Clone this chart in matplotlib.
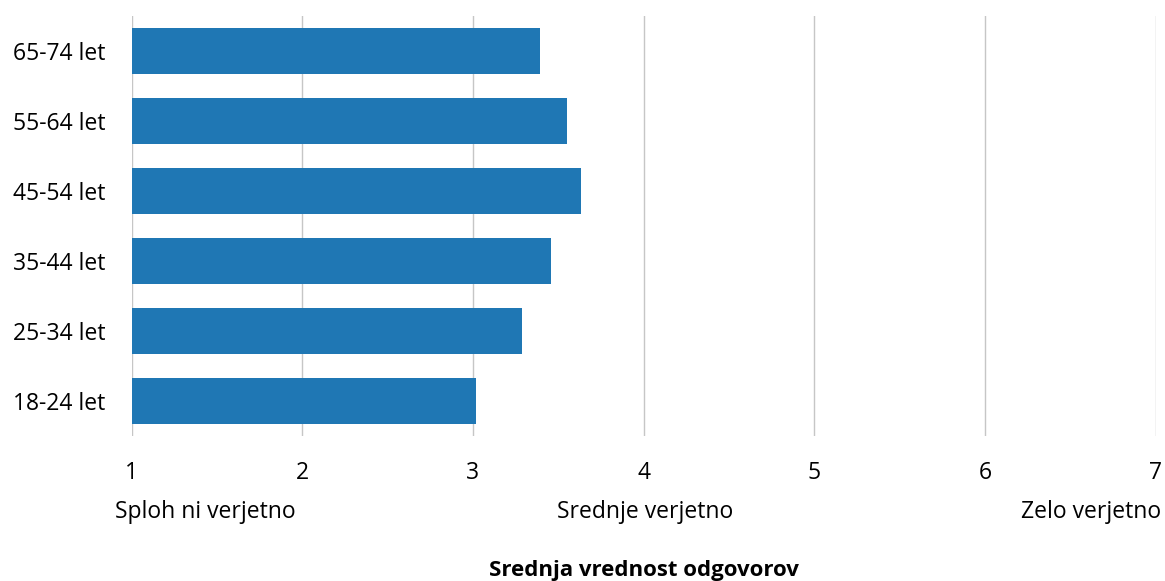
import matplotlib.pyplot as plt
import matplotlib.transforms as mtransforms

# mean answer per age group (scale 1-7)
groups = ["18-24 let", "25-34 let", "35-44 let", "45-54 let", "55-64 let", "65-74 let"]
means = [3.02, 3.29, 3.46, 3.63, 3.55, 3.39]
ticks = [1, 2, 3, 4, 5, 6, 7]
scale_labels = ["Sploh ni verjetno", "Srednje verjetno", "Zelo verjetno"]
scale_pos = [1.43, 4.01, 6.62]

plt.rcParams['font.family'] = ['Open Sans', 'Noto Sans', 'DejaVu Sans']

fig = plt.figure(figsize=(11.65, 5.81), dpi=100)
ax = fig.add_axes([0.113, 0.2496, 0.879, 0.7229])

ax.barh(range(len(groups)), [m - 1 for m in means], left=1, height=0.66,
        color='#1f77b4', zorder=3)

ax.set_xlim(1, 7)
ax.set_ylim(-0.5, len(groups) - 0.5)
ax.set_xticks(ticks)
ax.set_xticklabels([str(t) for t in ticks])
ax.set_yticks(range(len(groups)))
ax.set_yticklabels(groups)
ax.tick_params(axis='both', length=0, labelsize=16.5, colors='#000000')
ax.tick_params(axis='x', pad=18)
ax.tick_params(axis='y', pad=19)
ax.grid(axis='x', color='#c6c6c6', linewidth=1.0, zorder=0)
for s in ax.spines.values():
    s.set_visible(False)

# verbal anchors under the numeric scale
trans = mtransforms.blended_transform_factory(ax.transData, ax.transAxes)
for lbl, x in zip(scale_labels, scale_pos):
    ax.text(x, -0.18, lbl, transform=trans, ha='center', va='center', fontsize=16.5)

ax.text(0.5, -0.32, "Srednja vrednost odgovorov", transform=ax.transAxes,
        ha='center', va='center', fontsize=16, fontweight='bold')

fig.savefig("out.png", dpi=100)
